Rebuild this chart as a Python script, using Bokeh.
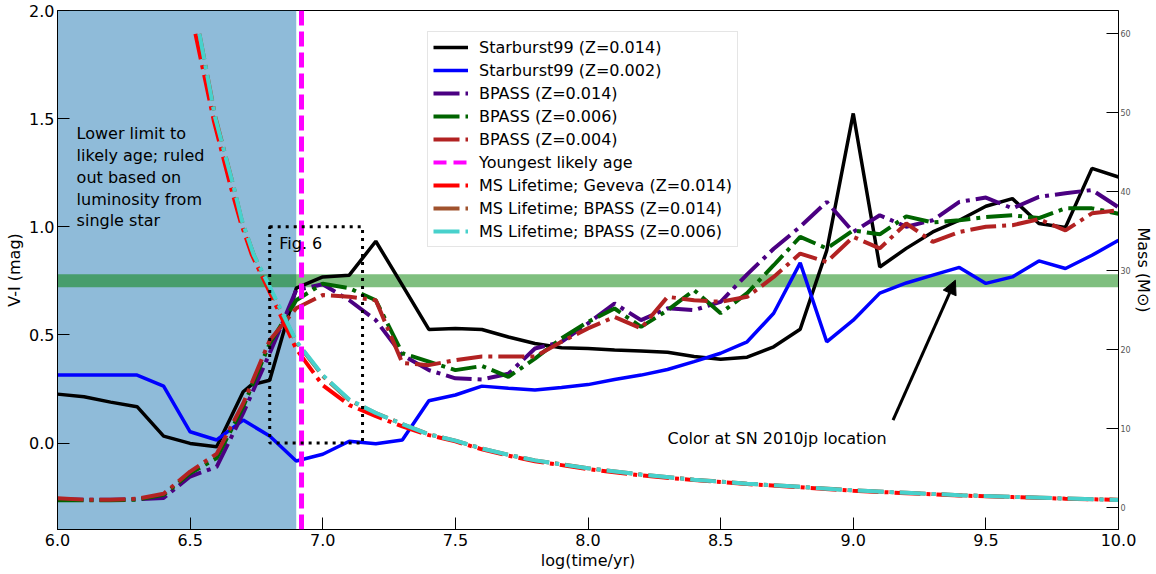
from bokeh.plotting import figure
from bokeh.models import (Range1d, LinearAxis, FixedTicker, BoxAnnotation, Arrow,
                          NormalHead, Span, Legend, LegendItem, Label, PrintfTickFormatter)
from bokeh.embed import file_html
from bokeh.resources import INLINE

# ---------------- data ----------------
log_age = [6.0, 6.1, 6.2, 6.3, 6.4, 6.5, 6.6, 6.7, 6.8, 6.9, 7.0, 7.1, 7.2, 7.3, 7.4,
           7.5, 7.6, 7.7, 7.8, 7.9, 8.0, 8.1, 8.2, 8.3, 8.4, 8.5, 8.6, 8.7, 8.8, 8.9,
           9.0, 9.1, 9.2, 9.3, 9.4, 9.5, 9.6, 9.7, 9.8, 9.9, 10.0]

sb99_z014_age = [6.0, 6.1, 6.2, 6.3, 6.4, 6.5, 6.6, 6.7, 6.73, 6.8, 6.9, 7.0, 7.1, 7.2, 7.3,
                 7.4, 7.5, 7.6, 7.7, 7.8, 7.9, 8.0, 8.1, 8.2, 8.3, 8.4, 8.5, 8.6, 8.7, 8.8,
                 8.9, 9.0, 9.1, 9.2, 9.3, 9.4, 9.5, 9.6, 9.7, 9.8, 9.9, 10.0]
sb99_z014 = [0.226, 0.214, 0.189, 0.168, 0.032, -0.002, -0.017, 0.237, 0.268, 0.29, 0.716,
             0.768, 0.776, 0.933, 0.73, 0.525, 0.53, 0.525, 0.49, 0.46, 0.44, 0.437, 0.43,
             0.426, 0.42, 0.40, 0.387, 0.397, 0.445, 0.526, 0.89, 1.524, 0.814, 0.90, 0.976,
             1.03, 1.095, 1.13, 1.015, 0.997, 1.27, 1.23]

sb99_z002 = [0.314, 0.314, 0.314, 0.314, 0.263, 0.052, 0.014, 0.106, 0.032, -0.083, -0.052,
             0.008, -0.003, 0.014, 0.195, 0.222, 0.263, 0.253, 0.245, 0.257, 0.27, 0.294,
             0.314, 0.34, 0.376, 0.415, 0.468, 0.60, 0.833, 0.468, 0.568, 0.693, 0.74, 0.776,
             0.812, 0.738, 0.768, 0.842, 0.807, 0.868, 0.937]

bpass_z014 = [-0.26, -0.262, -0.262, -0.26, -0.254, -0.155, -0.11, 0.138, 0.415, 0.707, 0.734,
              0.66, 0.568, 0.406, 0.337, 0.299, 0.294, 0.32, 0.437, 0.468, 0.553, 0.645, 0.568,
              0.623, 0.614, 0.653, 0.78, 0.898, 1.0, 1.115, 0.976, 1.053, 1.0, 1.03, 1.115,
              1.135, 1.085, 1.138, 1.155, 1.17, 1.09]

bpass_z006 = [-0.265, -0.265, -0.265, -0.262, -0.24, -0.14, -0.07, 0.168, 0.46, 0.66, 0.737,
              0.716, 0.66, 0.415, 0.376, 0.337, 0.356, 0.306, 0.39, 0.484, 0.56, 0.622, 0.537,
              0.614, 0.707, 0.60, 0.693, 0.822, 0.953, 0.90, 0.983, 0.965, 1.048, 1.02, 1.03,
              1.045, 1.053, 1.04, 1.085, 1.085, 1.06]

bpass_z004 = [-0.255, -0.262, -0.262, -0.258, -0.235, -0.132, -0.05, 0.183, 0.475, 0.623, 0.684,
              0.676, 0.66, 0.37, 0.36, 0.383, 0.40, 0.40, 0.40, 0.468, 0.53, 0.583, 0.53,
              0.676, 0.66, 0.653, 0.676, 0.768, 0.876, 0.837, 0.953, 0.90, 1.015, 0.93, 0.976,
              1.0, 1.007, 1.035, 0.983, 1.062, 1.076]

youngest_age = 6.92
excluded_age_max = 6.90
sn_color_low, sn_color_high = 0.72, 0.78

# main-sequence lifetimes (mass in Msun vs log lifetime)
ms_geneva_age = [6.52, 6.59, 6.655, 6.69, 6.733, 6.8, 6.9, 7.0, 7.1, 7.2, 7.3, 7.4, 7.5, 7.6,
                 7.7, 7.8, 7.9, 8.0, 8.2, 8.4, 8.6, 8.8, 9.0, 9.2, 9.4, 9.6, 9.8, 10.0]
ms_geneva_z014 = [60.0, 48.9, 40.4, 36.2, 32.0, 27.3, 20.1, 15.5, 13.0, 11.6, 10.3, 9.2, 8.4,
                  7.4, 6.6, 5.9, 5.4, 4.9, 4.1, 3.5, 3.0, 2.6, 2.15, 1.85, 1.55, 1.35, 1.15, 1.0]

ms_bpass_age = [6.535, 6.595, 6.665, 6.695, 6.74, 6.8, 6.9, 7.0, 7.1, 7.2, 7.3, 7.4, 7.5, 7.6,
                7.7, 7.8, 7.9, 8.0, 8.2, 8.4, 8.6, 8.8, 9.0, 9.2, 9.4, 9.6, 9.8, 10.0]
ms_bpass_z014 = [60.0, 49.5, 40.5, 36.3, 32.0, 27.8, 21.0, 16.7, 13.6, 12.0, 10.6, 9.3, 8.5,
                 7.5, 6.7, 6.0, 5.5, 5.0, 4.2, 3.55, 3.05, 2.65, 2.2, 1.9, 1.6, 1.38, 1.17, 1.02]
ms_bpass_z006 = [60.0, 49.3, 40.5, 36.4, 32.0, 28.0, 21.1, 16.8, 13.7, 12.0, 10.6, 9.3, 8.5,
                 7.5, 6.7, 6.0, 5.5, 5.0, 4.2, 3.55, 3.05, 2.65, 2.2, 1.9, 1.6, 1.38, 1.17, 1.0]

x_ticks = [6.0, 6.5, 7.0, 7.5, 8.0, 8.5, 9.0, 9.5, 10.0]
y_ticks = [0.0, 0.5, 1.0, 1.5, 2.0]
mass_ticks = [0, 10, 20, 30, 40, 50, 60]

FONT = "DejaVu Sans"
DASHDOT = "26 6 4 6"

# ---------------- figure ----------------
p = figure(width=1156, height=574, x_range=Range1d(6.0, 10.0), y_range=Range1d(-0.4, 2.0),
           output_backend="svg", toolbar_location=None,
           min_border_left=57, min_border_right=38, min_border_top=10, min_border_bottom=45)
p.extra_y_ranges = {"mass": Range1d(-2.75, 62.95)}
p.xgrid.visible = False
p.ygrid.visible = False
p.outline_line_color = "black"
p.background_fill_color = "white"
p.border_fill_color = "white"

# shaded regions
p.add_layout(BoxAnnotation(left=6.0, right=excluded_age_max, fill_color="#1f77b4",
                           fill_alpha=0.5, line_alpha=0, level="underlay"))
p.add_layout(BoxAnnotation(bottom=sn_color_low, top=sn_color_high, fill_color="green",
                           fill_alpha=0.5, line_alpha=0, level="underlay"))

# model curves
r_sb14 = p.line(sb99_z014_age, sb99_z014, line_color="black", line_width=3.5)
r_sb02 = p.line(log_age, sb99_z002, line_color="blue", line_width=3.5)
r_bp14 = p.line(log_age, bpass_z014, line_color="indigo", line_width=4, line_dash=DASHDOT)
r_bp06 = p.line(log_age, bpass_z006, line_color="darkgreen", line_width=4, line_dash=DASHDOT)
r_bp04 = p.line(log_age, bpass_z004, line_color="firebrick", line_width=4, line_dash=DASHDOT)

# youngest likely age (vertical span + a one-point proxy line for the legend)
p.add_layout(Span(location=youngest_age, dimension="height", line_color="magenta",
                  line_width=5, line_dash="15 6"))
r_young = p.line([youngest_age], [-5.0], line_color="magenta", line_width=4, line_dash="13 7")

# MS lifetimes on mass axis
r_msg = p.line(ms_geneva_age, ms_geneva_z014, y_range_name="mass", line_color="red",
               line_width=4, line_dash=DASHDOT)
r_msb14 = p.line(ms_bpass_age, ms_bpass_z014, y_range_name="mass", line_color="sienna",
                 line_width=4, line_dash=DASHDOT)
r_msb06 = p.line(ms_bpass_age, ms_bpass_z006, y_range_name="mass", line_color="mediumturquoise",
                 line_width=4, line_dash=DASHDOT)

# Fig. 6 box
p.add_layout(BoxAnnotation(left=6.8, right=7.15, bottom=0.0, top=1.0, fill_alpha=0,
                           line_color="black", line_alpha=1.0, line_width=3, line_dash="3 5"))

# annotations
p.add_layout(Label(x=6.072, y=1.475, text="Lower limit to\nlikely age; ruled\nout based on\nluminosity from\nsingle star",
                   text_baseline="top", text_font=FONT, text_font_size="16px",
                   text_line_height=1.15, text_color="black"))
p.add_layout(Label(x=6.836, y=0.924, text="Fig. 6", text_baseline="middle", text_font=FONT,
                   text_font_size="16px", text_color="black"))
p.add_layout(Label(x=8.30, y=0.023, text="Color at SN 2010jp location", text_baseline="middle",
                   text_font=FONT, text_font_size="16px", text_color="black"))
p.add_layout(Arrow(end=NormalHead(size=14, fill_color="black", line_color="black"),
                   x_start=9.15, y_start=0.106, x_end=9.385, y_end=0.753,
                   line_color="black", line_width=3))

# axes styling
def style_axis(ax, label_size="16px"):
    ax.major_tick_in = 12
    ax.major_tick_out = 0
    ax.minor_tick_in = 0
    ax.minor_tick_out = 0
    ax.axis_line_color = "black"
    ax.major_tick_line_color = "black"
    ax.major_label_text_font = FONT
    ax.major_label_text_font_size = label_size
    ax.major_label_text_color = "black"
    ax.axis_label_text_font = FONT
    ax.axis_label_text_font_size = "16px"
    ax.axis_label_text_font_style = "normal"
    ax.axis_label_text_color = "black"

xa = p.xaxis[0]
style_axis(xa)
xa.ticker = FixedTicker(ticks=x_ticks)
xa.formatter = PrintfTickFormatter(format="%.1f")
xa.axis_label = "log(time/yr)"
xa.major_label_standoff = 4
xa.axis_label_standoff = 2

ya = p.yaxis[0]
style_axis(ya)
ya.ticker = FixedTicker(ticks=y_ticks)
ya.formatter = PrintfTickFormatter(format="%.1f")
ya.axis_label = "V-I (mag)"
ya.major_label_standoff = 3
ya.axis_label_standoff = 2

ra = LinearAxis(y_range_name="mass", axis_label="Mass (M\u2299)")
style_axis(ra, label_size="8px")
ra.ticker = FixedTicker(ticks=mass_ticks)
ra.major_label_text_color = "#555555"
ra.major_label_standoff = 2
ra.axis_label_standoff = 0
p.add_layout(ra, "right")

# legend
legend = Legend(items=[
    LegendItem(label="Starburst99 (Z=0.014)", renderers=[r_sb14]),
    LegendItem(label="Starburst99 (Z=0.002)", renderers=[r_sb02]),
    LegendItem(label="BPASS (Z=0.014)", renderers=[r_bp14]),
    LegendItem(label="BPASS (Z=0.006)", renderers=[r_bp06]),
    LegendItem(label="BPASS (Z=0.004)", renderers=[r_bp04]),
    LegendItem(label="Youngest likely age", renderers=[r_young]),
    LegendItem(label="MS Lifetime; Geveva (Z=0.014)", renderers=[r_msg]),
    LegendItem(label="MS Lifetime; BPASS (Z=0.014)", renderers=[r_msb14]),
    LegendItem(label="MS Lifetime; BPASS (Z=0.006)", renderers=[r_msb06]),
], location=(370, 282))
legend.label_text_font = FONT
legend.label_text_font_size = "16px"
legend.label_text_color = "black"
legend.glyph_width = 35
legend.glyph_height = 20
legend.label_height = 20
legend.spacing = 3
legend.padding = 5
legend.margin = 0
legend.label_standoff = 11
legend.border_line_color = "#cccccc"
legend.background_fill_alpha = 0.85
p.add_layout(legend)

open("out.html", "w").write(file_html(p, INLINE))
